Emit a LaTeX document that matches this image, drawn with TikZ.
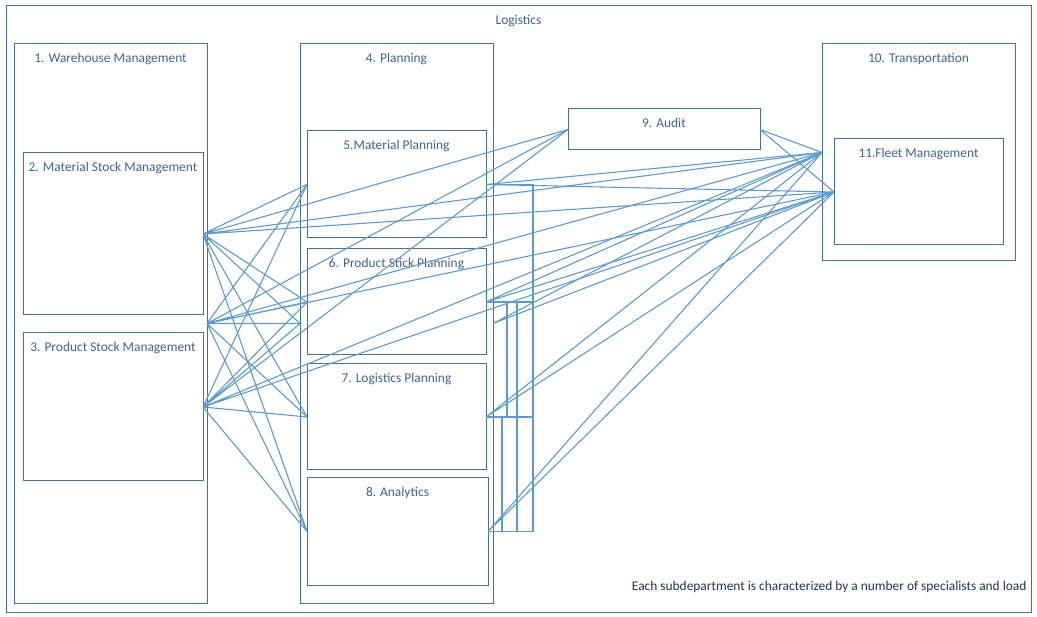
\documentclass[tikz,border=0pt]{standalone}
\usepackage{fontspec}
\setmainfont{Carlito}
\usepackage{xcolor}
\definecolor{boxblue}{HTML}{41719C}
\definecolor{linkblue}{HTML}{5B9BD5}
\definecolor{textblue}{HTML}{3D6490}
\definecolor{notenavy}{HTML}{203354}
\tikzset{dept/.style={draw=boxblue,line width=1pt,inner sep=0pt,outer sep=0pt,anchor=north west},
	title/.style={anchor=north,yshift=-6pt,text=textblue,font=\fontsize{13.4}{15}\selectfont},
	link/.style={draw=linkblue,line width=1.1pt}}

\begin{document}
\begin{tikzpicture}[x=1pt,y=-1pt]
	\useasboundingbox (0,0) rectangle (1037,617);
	\node[dept,minimum width=1025pt,minimum height=606pt,label={[title]north:Logistics}] (logi) at (6,6) {};
	\node[dept,minimum width=193pt,minimum height=559pt,label={[title]north:1. Warehouse Management}] (wm) at (14,44) {};
	\node[dept,minimum width=180pt,minimum height=162pt,label={[title]north:2. Material Stock Management}] (msm) at (23,153) {};
	\node[dept,minimum width=180pt,minimum height=148pt,label={[title]north:3. Product Stock Management}] (psm) at (23,333) {};
	\node[dept,minimum width=193pt,minimum height=559pt,label={[title]north:4. Planning}] (plan) at (300,44) {};
	\node[dept,minimum width=179pt,minimum height=107pt,label={[title]north:5.Material Planning}] (mp) at (307,131) {};
	\node[dept,minimum width=179pt,minimum height=106pt,label={[title]north:6. Product Stick Planning}] (psp) at (307,249) {};
	\node[dept,minimum width=179pt,minimum height=106pt,label={[title]north:7. Logistics Planning}] (lp) at (307,364) {};
	\node[dept,minimum width=181pt,minimum height=107pt,label={[title]north:8. Analytics}] (ana) at (307,478) {};
	\node[dept,minimum width=192pt,minimum height=41pt,label={[title]north:9. Audit}] (audit) at (568,109) {};
	\node[dept,minimum width=193pt,minimum height=217pt,label={[title]north:10. Transportation}] (trans) at (822,44) {};
	\node[dept,minimum width=169pt,minimum height=106pt,label={[title]north:11.Fleet Management}] (fleet) at (834,139) {};
	\node[anchor=east,text=notenavy,font=\fontsize{13.4}{15}\selectfont] (note) at (1030,587) {Each subdepartment is characterized by a number of specialists and load};
	\coordinate (r1) at (533,0);
	\coordinate (r2) at (517,0);
	\coordinate (r3) at (507,0);
	\coordinate (r4) at (502,0);
	\draw[link] (msm.east)--(plan.west) (msm.east)--(mp.west) (msm.east)--(psp.west) (msm.east)--(lp.west) (msm.east)--(ana.west) (msm.east)--(audit.west) (msm.east)--(trans.west) (msm.east)--(fleet.west);
	\draw[link] (wm.east)--(plan.west) (wm.east)--(mp.west) (wm.east)--(psp.west) (wm.east)--(lp.west) (wm.east)--(ana.west) (wm.east)--(audit.west) (wm.east)--(trans.west) (wm.east)--(fleet.west);
	\draw[link] (psm.east)--(plan.west) (psm.east)--(mp.west) (psm.east)--(psp.west) (psm.east)--(lp.west) (psm.east)--(ana.west) (psm.east)--(audit.west) (psm.east)--(trans.west) (psm.east)--(fleet.west);
	\draw[link] (plan.east)--(trans.west) (plan.east)--(fleet.west);
	\draw[link] (mp.east)--(trans.west) (mp.east)--(fleet.west) (psp.east)--(trans.west) (psp.east)--(fleet.west);
	\draw[link] (lp.east)--(trans.west) (lp.east)--(fleet.west) (ana.east)--(trans.west) (ana.east)--(fleet.west);
	\draw[link] (audit.east)--(trans.west) (audit.east)--(fleet.west);
	\draw[link] (mp.east)--(mp.east-|r1)--(ana.east-|r1)--(ana.east) (psp.east-|r1)--(psp.east-|r2) (lp.east-|r1)--(lp.east-|r4);
	\draw[link] (psp.east)--(psp.east-|r2)--(ana.east-|r2);
	\draw[link] (psp.east-|r3)--(lp.east-|r3);
	\draw[link] (lp.east)--(lp.east-|r4)--(ana.east-|r4);
\end{tikzpicture}
\end{document}
